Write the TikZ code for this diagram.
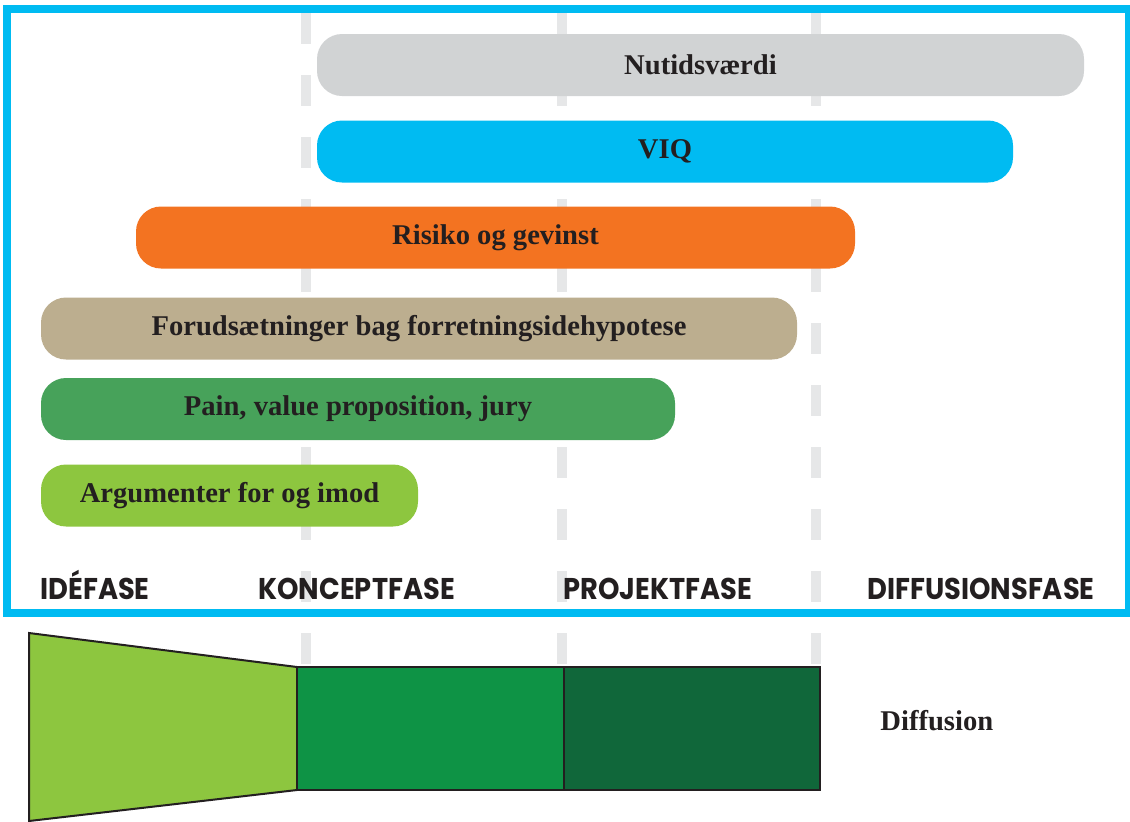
\documentclass[tikz,border=0pt]{standalone}
\usepackage{fontspec}
\setmainfont{Liberation Serif}
\newfontfamily\phasefont{Poppins}[FakeStretch=0.91]
\usetikzlibrary{calc}

\definecolor{framecol}{HTML}{00BBF2}
\definecolor{dashgray}{HTML}{E6E7E8}
\definecolor{inkblack}{HTML}{231F20}
\definecolor{nutgray}{HTML}{D1D3D4}
\definecolor{viqblue}{HTML}{00BBF2}
\definecolor{risorange}{HTML}{F37321}
\definecolor{forudtan}{HTML}{BCAE8F}
\definecolor{paingreen}{HTML}{47A25A}
\definecolor{arglime}{HTML}{8DC63F}
\definecolor{midgreen}{HTML}{0E9345}
\definecolor{darkgreen}{HTML}{10673A}

\begin{document}
\begin{tikzpicture}[
   x=0.5pt, y=-0.5pt,
   bar/.style={
       rectangle, rounded corners=12.5pt,
       minimum height=31pt, minimum width=#1,
       inner sep=0pt, text=inkblack,
       font=\fontsize{14.3}{17}\selectfont\bfseries
   },
   phase/.style={
       anchor=base west, inner sep=0pt, text=inkblack,
       font=\fontsize{15}{18}\selectfont\phasefont\bfseries
   },
   phaseline/.style={dashgray, line width=5pt, dash pattern=on 15.5pt off 15.5pt},
   block/.style={draw=inkblack, line width=1pt}
  ]
  \useasboundingbox (0,0) rectangle (1130,821);
  % phase borders
  \foreach \xx in {306,562,816}
     \draw [phaseline] (\xx,13) -- (\xx,780);
  % frame
  \draw [framecol, line width=4pt] (7,9) rectangle (1129,613);
  % bars
  \node [bar=383.5pt, fill=nutgray] (nutid) at (700.5,65) {Nutidsværdi};
  \node [bar=348pt, fill=viqblue] (viq) at (665,151.5) {VIQ};
  \node [bar=359.5pt, fill=risorange] (risiko) at (495.5,237.5) {Risiko og gevinst};
  \node [bar=378pt, fill=forudtan] (forud) at (419,328.5) {Forudsætninger bag forretningsidehypotese};
  \node [bar=317pt, fill=paingreen] (pain) at (358,409) {Pain, value proposition, jury};
  \node [bar=188.5pt, fill=arglime] (arg) at (229.5,495.5) {Argumenter for og imod};
  % phase names
  \node [phase] (ide) at (40,599) {IDÉFASE};
  \node [phase] (koncept) at (258,599) {KONCEPTFASE};
  \node [phase] (projekt) at (563,599) {PROJEKTFASE};
  \node [phase] (diffus) at (867,599) {DIFFUSIONSFASE};
  % funnel
  \draw [block, fill=arglime] (29,633) -- (297,667) -- (297,790) -- (29,821) -- cycle;
  \draw [block, fill=midgreen] (297,667) rectangle (564,790);
  \draw [block, fill=darkgreen] (564,667) rectangle (820,790);
  \node [anchor=base west, inner sep=0pt, text=inkblack,
         font=\fontsize{14.3}{17}\selectfont\bfseries] (diffusion) at (880,730) {Diffusion};
\end{tikzpicture}
\end{document}
